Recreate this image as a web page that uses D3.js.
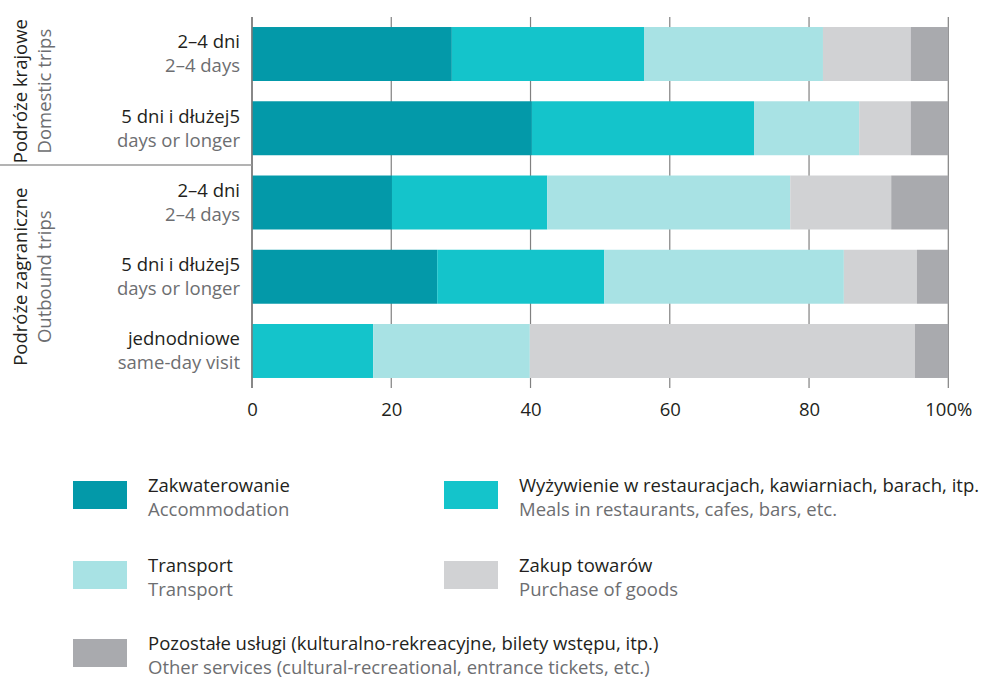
<!DOCTYPE html>
<html><head><meta charset="utf-8">
<script src="https://cdn.jsdelivr.net/npm/d3@7"></script>
<style>body{margin:0;background:#fff}svg{display:block;font-family:"Open Sans",sans-serif}</style>
</head><body>
<svg id="c" width="990" height="680"></svg>
<script>
const rowsPl = ["2–4 dni", "5 dni i dłużej5", "2–4 dni", "5 dni i dłużej5", "jednodniowe"];
const rowsEn = ["2–4 days", "days or longer", "2–4 days", "days or longer", "same-day visit"];
const groupsPl = ["Podróże krajowe", "Podróże zagraniczne"];
const groupsEn = ["Domestic trips", "Outbound trips"];
const groupRows = [[0, 1], [2, 4]];
const accommodation = [28.7, 40.2, 20.1, 26.6, 0];
const meals = [27.6, 31.9, 22.3, 24.0, 17.4];
const transport = [25.7, 15.1, 34.9, 34.4, 22.5];
const goods = [12.6, 7.4, 14.5, 10.5, 55.3];
const others = [5.4, 5.4, 8.2, 4.5, 4.8];
const seriesKeys = ["accommodation", "meals", "transport", "goods", "others"];
const seriesPl = ["Zakwaterowanie", "Wyżywienie w restauracjach, kawiarniach, barach, itp.", "Transport", "Zakup towarów", "Pozostałe usługi (kulturalno-rekreacyjne, bilety wstępu, itp.)"];
const seriesEn = ["Accommodation", "Meals in restaurants, cafes, bars, etc.", "Transport", "Purchase of goods", "Other services (cultural-recreational, entrance tickets, etc.)"];
const xTicks = [0, 20, 40, 60, 80, 100];
const colors = ["#0399a9", "#14c4cb", "#a8e2e4", "#d1d2d4", "#a9aaae"];

const table = rowsPl.map((r, i) => ({i, accommodation: accommodation[i], meals: meals[i], transport: transport[i], goods: goods[i], others: others[i]}));
const stacked = d3.stack().keys(seriesKeys)(table);

const svg = d3.select("#c");
const x = d3.scaleLinear().domain([0, 100]).range([252, 948.3]);
const y = d3.scaleBand().domain(d3.range(rowsPl.length)).range([17, 388]).paddingInner(0.273).paddingOuter(0.135);
const color = d3.scaleOrdinal().domain(seriesKeys).range(colors);
const black = "#231f20", gray = "#6d6e71", fs = 18.5;

// gridlines
svg.append("g").selectAll("line").data(xTicks).join("line")
  .attr("x1", d => x(d)).attr("x2", d => x(d)).attr("y1", 17).attr("y2", 388)
  .attr("stroke", "#808080").attr("stroke-width", 1.2);

// bars
svg.append("g").selectAll("g").data(stacked).join("g").attr("fill", d => color(d.key))
  .selectAll("rect").data(d => d).join("rect")
  .attr("x", d => x(d[0])).attr("width", d => x(d[1]) - x(d[0]))
  .attr("y", d => y(d.data.i)).attr("height", y.bandwidth());

// left axis line
svg.append("line").attr("x1", x(0)).attr("x2", x(0)).attr("y1", 17).attr("y2", 388)
  .attr("stroke", "#7a7a7a").attr("stroke-width", 1.5);

// x axis labels
const xAxis = d3.axisBottom(x).tickValues(xTicks).tickSize(0).tickPadding(0)
  .tickFormat(d => d === 100 ? "100%" : d);
const gx = svg.append("g").attr("transform", "translate(0,388)").call(xAxis);
gx.select(".domain").remove();
gx.selectAll("text").attr("y", 22).attr("dy", "0.35em").attr("fill", black)
  .style("font-size", fs + "px").style("font-family", '"Open Sans",sans-serif');

// row labels
const rl = svg.append("g").attr("text-anchor", "end").style("font-size", fs + "px");
rowsPl.forEach((t, i) => {
  const cy = y(i) + y.bandwidth() / 2;
  rl.append("text").attr("x", 240).attr("y", cy - 12).attr("dy", "0.35em").attr("fill", black).text(t);
  rl.append("text").attr("x", 240).attr("y", cy + 12).attr("dy", "0.35em").attr("fill", gray).text(rowsEn[i]);
});

// group separator
svg.append("line").attr("x1", 0).attr("x2", x(0)).attr("y1", 165).attr("y2", 165)
  .attr("stroke", "#9a9a9a").attr("stroke-width", 1.5);

// group labels
groupsPl.forEach((g, k) => {
  const [a, b] = groupRows[k];
  const cy = (y(a) + y(b) + y.bandwidth()) / 2;
  svg.append("text").attr("transform", `translate(21,${cy}) rotate(-90)`).attr("text-anchor", "middle")
    .attr("dy", "0.35em").attr("fill", black).style("font-size", fs + "px").text(g);
  svg.append("text").attr("transform", `translate(45,${cy}) rotate(-90)`).attr("text-anchor", "middle")
    .attr("dy", "0.35em").attr("fill", gray).style("font-size", fs + "px").text(groupsEn[k]);
});

// legend
const legPos = [[73, 481], [444, 481], [73, 561], [444, 561], [73, 639]];
const leg = svg.append("g").style("font-size", fs + "px");
seriesKeys.forEach((k, i) => {
  const [lx, ly] = legPos[i];
  leg.append("rect").attr("x", lx).attr("y", ly).attr("width", 54).attr("height", 28).attr("fill", color(k));
  leg.append("text").attr("x", lx + 75).attr("y", ly + 5).attr("dy", "0.35em").attr("fill", black).text(seriesPl[i]);
  leg.append("text").attr("x", lx + 75).attr("y", ly + 29).attr("dy", "0.35em").attr("fill", gray).text(seriesEn[i]);
});
</script>
</body></html>
